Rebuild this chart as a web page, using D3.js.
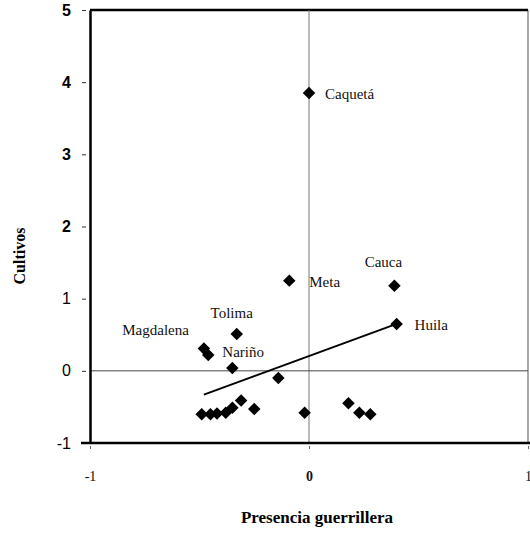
<!DOCTYPE html>
<html>
<head>
<meta charset="utf-8">
<script src="https://cdn.jsdelivr.net/npm/d3@7"></script>
<style>
  body { margin: 0; background: #fff; }
  svg { display: block; }
</style>
</head>
<body>
<div id="chart"></div>
<script>
// Departamentos (null = sin etiqueta)
const names = ["Caquetá", "Meta", "Cauca", "Huila", "Tolima", "Magdalena", null, "Nariño", null,
  null, null, null, null, null, null, null, null, null, null, null];
const guerrilla = [0.00, -0.09, 0.39, 0.40, -0.33, -0.48, -0.46, -0.35, -0.14,
  -0.49, -0.45, -0.42, -0.38, -0.35, -0.31, -0.25, -0.02, 0.18, 0.23, 0.28];
const cultivos = [3.85, 1.25, 1.18, 0.65, 0.51, 0.31, 0.22, 0.04, -0.10,
  -0.60, -0.60, -0.59, -0.58, -0.51, -0.41, -0.53, -0.58, -0.45, -0.58, -0.60];

// recta de ajuste (extremos)
const fitX = [-0.48, 0.40];
const fitY = [-0.33, 0.65];

const xTicks = [-1, 0, 1];
const yTicks = [-1, 0, 1, 2, 3, 4, 5];

const W = 530, H = 535;
const margin = { top: 10, right: 2, bottom: 92, left: 90 };

const svg = d3.select("#chart").append("svg")
    .attr("width", W)
    .attr("height", H);

const x = d3.scaleLinear().domain([-1, 1]).range([margin.left, W - margin.right]);
const y = d3.scaleLinear().domain([-1, 5]).range([H - margin.bottom, margin.top]);

// etiquetas con guion simple, como en el original
const fmt = d => String(d);

// marco
svg.append("line")
    .attr("x1", x(1)).attr("x2", x(1))
    .attr("y1", y(5)).attr("y2", y(-1))
    .attr("stroke", "#555").attr("stroke-width", 1);
svg.append("line")
    .attr("x1", x(-1)).attr("x2", x(1))
    .attr("y1", y(5)).attr("y2", y(5))
    .attr("stroke", "#000").attr("stroke-width", 2.5);

// lineas del cero
svg.append("line")
    .attr("x1", x(0)).attr("x2", x(0))
    .attr("y1", y(5)).attr("y2", y(-1))
    .attr("stroke", "#777").attr("stroke-width", 1);
svg.append("line")
    .attr("x1", x(-1)).attr("x2", x(1))
    .attr("y1", y(0)).attr("y2", y(0))
    .attr("stroke", "#444").attr("stroke-width", 1);

// eje Y
const yAxis = svg.append("g")
    .attr("transform", `translate(${x(-1)},0)`)
    .call(d3.axisLeft(y).tickValues(yTicks).tickFormat(fmt)
        .tickSize(0).tickPadding(19));
yAxis.select(".domain").attr("stroke", "#000").attr("stroke-width", 2.5);
yAxis.selectAll("text")
    .style("font-family", "'Liberation Sans', Arial, sans-serif")
    .style("font-size", "16px")
    .style("font-weight", d => d >= 2 ? "bold" : "normal")
    .attr("fill", "#000");
yAxis.selectAll(".tick").append("line")
    .attr("x1", -8).attr("x2", -4)
    .attr("stroke", "#333").attr("stroke-width", 1);

// eje X
const xAxis = svg.append("g")
    .attr("transform", `translate(0,${y(-1)})`)
    .call(d3.axisBottom(x).tickValues(xTicks).tickFormat(fmt)
        .tickSize(6).tickPadding(22));
xAxis.select(".domain").remove();
xAxis.append("line")
    .attr("x1", x(-1) - 9).attr("x2", W)
    .attr("stroke", "#000").attr("stroke-width", 2.5);
xAxis.selectAll(".tick line").attr("stroke", "#666").attr("y1", 3);
xAxis.selectAll("text")
    .style("font-family", "'Liberation Serif', 'Times New Roman', serif")
    .style("font-size", "14px")
    .style("font-weight", d => d === 0 ? "bold" : "normal")
    .attr("fill", "#111");

// recta de ajuste
svg.append("line")
    .attr("x1", x(fitX[0])).attr("y1", y(fitY[0]))
    .attr("x2", x(fitX[1])).attr("y2", y(fitY[1]))
    .attr("stroke", "#000").attr("stroke-width", 2);

// puntos
const data = guerrilla.map((g, i) => ({ name: names[i], gx: g, cy: cultivos[i] }));

svg.append("g").selectAll("path")
    .data(data)
    .enter()
    .append("path")
    .attr("d", d3.symbol().type(d3.symbolSquare).size(78))
    .attr("transform", d => `translate(${x(d.gx)},${y(d.cy)}) rotate(45)`)
    .attr("fill", "#000");

// etiquetas
const labelPos = {
    "Caquetá":   { dx: 16, dy: 6, anchor: "start" },
    "Meta":      { dx: 20, dy: 6, anchor: "start" },
    "Cauca":     { dx: -11, dy: -19, anchor: "middle" },
    "Huila":     { dx: 18, dy: 6, anchor: "start" },
    "Tolima":    { dx: -5, dy: -16, anchor: "middle" },
    "Magdalena": { dx: -15, dy: -13, anchor: "end" },
    "Nariño":    { dx: -10, dy: -11, anchor: "start" }
};

svg.append("g").selectAll("text")
    .data(data.filter(d => d.name))
    .enter()
    .append("text")
    .attr("x", d => x(d.gx) + labelPos[d.name].dx)
    .attr("y", d => y(d.cy) + labelPos[d.name].dy)
    .attr("text-anchor", d => labelPos[d.name].anchor)
    .style("font-family", "'Liberation Serif', 'Times New Roman', serif")
    .style("font-size", "15px")
    .attr("fill", "#111")
    .text(d => d.name);

// titulos
svg.append("text")
    .attr("x", x(0) + 8)
    .attr("y", 523)
    .attr("text-anchor", "middle")
    .style("font-family", "'Liberation Serif', 'Times New Roman', serif")
    .style("font-size", "17px")
    .style("font-weight", "bold")
    .text("Presencia guerrillera");

svg.append("text")
    .attr("transform", "translate(25,256) rotate(-90)")
    .attr("text-anchor", "middle")
    .style("font-family", "'Liberation Serif', 'Times New Roman', serif")
    .style("font-size", "16px")
    .style("font-weight", "bold")
    .text("Cultivos");
</script>
</body>
</html>
